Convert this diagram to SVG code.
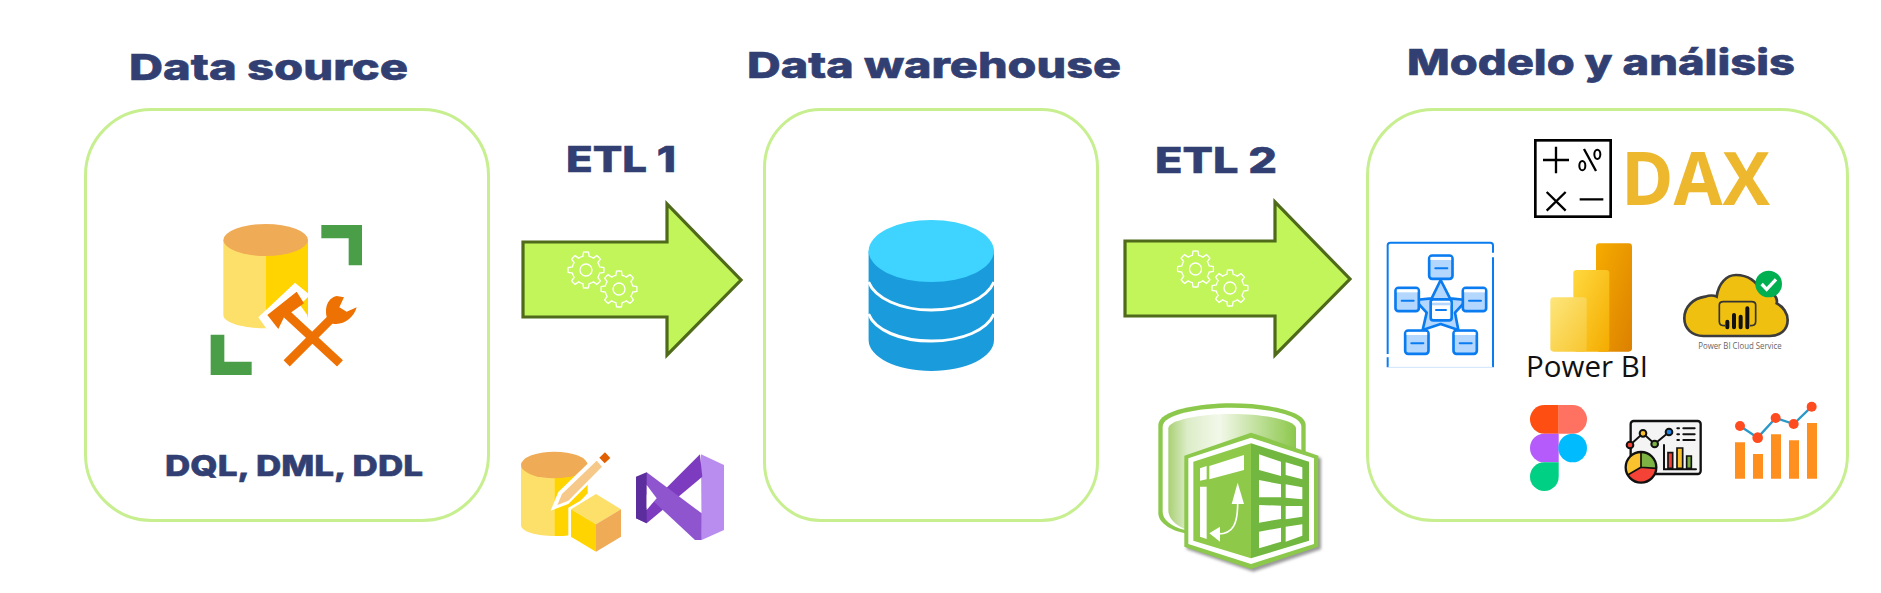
<svg xmlns="http://www.w3.org/2000/svg" xmlns:xlink="http://www.w3.org/1999/xlink" width="1881" height="593" viewBox="0 0 1881 593">
<style>
.box{fill:#fff;stroke:#c7ef90;stroke-width:3}
.h{font-family:Inter,"DejaVu Sans","Liberation Sans",sans-serif;font-weight:800;fill:#323f72;stroke:#323f72;stroke-width:.6}
.arrow{fill:#c1f55a;stroke:#4f6a1a;stroke-width:3.2}
.gear{fill:none;stroke:#fff;stroke-width:1.3}
.sb{fill:#b3d7ff;stroke:#0a7cf0;stroke-width:8}
.bk{stroke:#111;fill:none;stroke-linecap:round}
</style>
<defs>
<path id="tooth" d="M12.93-5.36A14 14 0 0 1 13.64-3.15L17.82-2.5A18 18 0 0 1 17.82 2.5L13.64 3.15A14 14 0 0 1 12.93 5.36"/>
<g id="gearShape" class="gear">
<use xlink:href="#tooth" href="#tooth"/>
<use xlink:href="#tooth" href="#tooth" transform="rotate(45)"/>
<use xlink:href="#tooth" href="#tooth" transform="rotate(90)"/>
<use xlink:href="#tooth" href="#tooth" transform="rotate(135)"/>
<use xlink:href="#tooth" href="#tooth" transform="rotate(180)"/>
<use xlink:href="#tooth" href="#tooth" transform="rotate(225)"/>
<use xlink:href="#tooth" href="#tooth" transform="rotate(270)"/>
<use xlink:href="#tooth" href="#tooth" transform="rotate(315)"/>
<circle r="6"/>
</g>
<g id="sbox">
<rect class="sb" x="3.5" y="3.5" width="70" height="70" rx="9"/>
<rect x="7.5" y="8" width="62" height="9" fill="#fff"/>
<path d="M22 42H58" stroke="#0a7cf0" stroke-width="6" stroke-linecap="round"/>
</g>
<linearGradient id="g1" x1="0" x2="1" y1="0" y2="0"><stop offset="0" stop-color="#a9d074"/><stop offset=".15" stop-color="#dcedc8"/><stop offset=".4" stop-color="#f3f8ea"/><stop offset="1" stop-color="#8cc84b"/></linearGradient>
<linearGradient id="p1" x1="0" x2="1" y1="0" y2="1"><stop offset="0" stop-color="#f6ac00"/><stop offset="1" stop-color="#dc8000"/></linearGradient>
<linearGradient id="p2" x1="0" x2="1" y1="0" y2="1"><stop offset="0" stop-color="#ffd93f"/><stop offset="1" stop-color="#f4ab00"/></linearGradient>
<linearGradient id="p3" x1="0" x2="1" y1="0" y2="1"><stop offset="0" stop-color="#fde67c"/><stop offset="1" stop-color="#f8c630"/></linearGradient>
<filter id="bl" x="-10%" y="-10%" width="120%" height="120%"><feGaussianBlur stdDeviation="4"/></filter>
</defs>
<rect width="1881" height="593" fill="#fff"/>

<g id="connectors">
<path class="arrow" d="M523 242H667V204L741 280L667 355V317H523Z" />
<path class="arrow" d="M1125 241H1275V202L1350 279L1275 355V316H1125Z"/>
<use xlink:href="#gearShape" href="#gearShape" transform="translate(586 270)"/>
<use xlink:href="#gearShape" href="#gearShape" transform="translate(619 289)"/>
<use xlink:href="#gearShape" href="#gearShape" transform="translate(1195.5 269)"/>
<use xlink:href="#gearShape" href="#gearShape" transform="translate(1230 288)"/>
</g>

<g id="node-source">
<text class="h" x="129" y="80" font-size="36" textLength="279" lengthAdjust="spacingAndGlyphs">Data source</text>
<rect class="box" x="85.5" y="109.5" width="403" height="411" rx="66" ry="66"/>
<g transform="translate(190 200) scale(.33333)">
<path d="M100 120V345C100 370 165 385 228 385V120Z" fill="#fde069"/>
<path d="M228 120V385C290 385 354 370 354 345V120Z" fill="#ffd400"/>
<ellipse cx="227" cy="120" rx="127" ry="48" fill="#f0ab56"/>
<path d="M394 75H516V196H476V115H394Z" fill="#4a9e47"/>
<path d="M62 404H103V485H185V525H62Z" fill="#4a9e47"/>
<path d="M205 352L315 248L360 285L330 315L352 345L352 395L232 390Z" fill="#fff"/>
<path d="M290 342L450 490M290 490L430 350" stroke="#ee7203" stroke-width="26" fill="none"/>
<path d="M232 345L320 275L342 310L302 338L282 352L265 387Z" fill="#ee7203"/>
<path d="M440 288C410 295 400 330 415 365C445 385 490 360 500 322L470 335L448 322L462 292Z" fill="#ee7203"/>
</g>
<text class="h" x="165" y="476" font-size="29" textLength="258" lengthAdjust="spacingAndGlyphs">DQL, DML, DDL</text>
</g>

<g id="node-etl1">
<text class="h" x="566" y="172" font-size="36" textLength="110" lengthAdjust="spacingAndGlyphs">ETL 1</text>
<g transform="translate(500 430) scale(.33333)">
<path d="M63 105V285C63 305 110 318 163 318V105Z" fill="#fde069"/>
<path d="M163 105H263V190L215 240V315C200 318 180 318 163 318Z" fill="#ffd400"/>
<ellipse cx="163" cy="105" rx="100" ry="40" fill="#f0ab56"/>
<path d="M152 242L175 186L300 65L332 95L205 222Z" fill="#fff"/>
<path d="M172 225L186 192L290 92L306 110L205 212Z" fill="#f6c98a"/>
<path d="M315 67L331 84L314 100L298 83Z" fill="#e05f00"/>
<path d="M288 185L370 233V325L288 372L205 325V233Z" fill="#fff"/>
<path d="M288 192L363 238L288 283L213 238Z" fill="#fde069"/>
<path d="M213 238L288 283V365L213 320Z" fill="#ffd400"/>
<path d="M288 283L363 238V320L288 365Z" fill="#f0ab56"/>
<path d="M603 73L672 105V300L605 330Z" fill="#b98df0"/>
<path d="M600 73L607 140L440 280L408 265Z" fill="#7d3cc0"/>
<path d="M440 127L605 250V330H585L408 165Z" fill="#8f55cf"/>
<path d="M408 140L440 127V150L440 280L408 265Z" fill="#5c2d9c"/>
<path d="M440 165L470 205L440 240Z" fill="#fff"/>
</g>
</g>

<g id="node-warehouse">
<text class="h" x="747" y="78" font-size="36" textLength="374" lengthAdjust="spacingAndGlyphs">Data warehouse</text>
<rect class="box" x="764.5" y="109.5" width="333" height="411" rx="56" ry="58"/>
<path d="M868.6 251V340C868.6 357 896.6 371 931.3 371S994 357 994 340V251Z" fill="#1a9bdc"/>
<ellipse cx="931.3" cy="251" rx="62.7" ry="31" fill="#3ed4ff"/>
<path d="M868.6 282C875 298 900 310 931.3 310S987 298 994 282M868.6 314C875 330 900 341 931.3 341S987 330 994 314" fill="none" stroke="#fff" stroke-width="3"/>
</g>

<g id="node-etl2">
<text class="h" x="1155" y="173" font-size="36" textLength="122" lengthAdjust="spacingAndGlyphs">ETL 2</text>
<g transform="translate(1140 390) scale(.33333)">
<path d="M55 105C55 60 180 40 275 40C370 40 497 60 497 105V430H135C85 420 55 395 55 370Z" fill="#8cc84b"/>
<path d="M68 110C68 72 180 53 275 53C370 53 484 72 484 110V420H135C95 410 68 390 68 365Z" fill="#fff"/>
<path d="M85 115C85 90 180 72 275 72C370 72 468 90 468 115V420H140C105 405 85 385 85 360Z" fill="url(#g1)"/>
<path d="M140 205L340 136L543 205V478L340 545L140 478Z" fill="#999" filter="url(#bl)"/>
<path d="M133 197L333 128L535 197V470L333 537L133 470Z" fill="#8cc84b"/>
<path d="M145 205L333 143L522 205V462L333 522L145 462Z" fill="#fff"/>
<path d="M160 215L333 160V505L160 452Z" fill="#8fc94a"/>
<path d="M333 160L507 215V452L333 505Z" fill="#72b840"/>
<path d="M208 228L312 195V240L208 268ZM180 235L200 228V268L180 272ZM180 290H200V447L180 440Z" fill="#fff"/>
<path d="M357 193L423 215V258L357 240ZM437 217L487 232V268L437 255ZM357 270L423 283V322L357 322ZM437 283L487 292V328L437 323ZM357 345L423 347V387L357 398ZM437 348L487 348V380L437 388ZM357 425L423 413V455L357 475ZM437 410L487 403V437L437 455Z" fill="#fff"/>
<path d="M293 278L312 342L275 342ZM208 430L240 410V455Z" fill="#fff"/>
<path d="M293 340C293 400 280 432 235 432" fill="none" stroke="#fff" stroke-width="5"/>
</g>
</g>

<g id="node-model">
<text class="h" x="1407" y="75" font-size="36" textLength="388" lengthAdjust="spacingAndGlyphs">Modelo y análisis</text>
<rect class="box" x="1367.5" y="109.5" width="480" height="411" rx="66" ry="66"/>
<text x="1621" y="204.7" font-family="Open Sans,sans-serif" font-weight="700" font-size="73" fill="#edb72e" textLength="149" lengthAdjust="spacingAndGlyphs">DAX</text>
<text x="1526" y="377.3" font-family="Open Sans,sans-serif" font-size="29" fill="#111" textLength="122" lengthAdjust="spacingAndGlyphs">Power BI</text>
<text x="1698.3" y="349" font-family="Open Sans,sans-serif" font-size="9" fill="#666" textLength="83.3" lengthAdjust="spacingAndGlyphs">Power BI Cloud Service</text>
<g transform="translate(1360 0) scale(.33333)">
<rect x="526" y="421" width="226" height="229" fill="#fff" stroke="#000" stroke-width="8"/>
<path d="M549 480H627M588 440V520M560 576L617 632M617 576L560 632M659 598H730M672 447L708 513" stroke="#000" stroke-width="7" fill="none"/>
<ellipse cx="667" cy="497" rx="9" ry="14" fill="none" stroke="#000" stroke-width="6"/>
<ellipse cx="712" cy="463" rx="9" ry="14" fill="none" stroke="#000" stroke-width="6"/>

<rect x="708" y="730" width="108" height="325" rx="10" fill="url(#p1)"/>
<rect x="640" y="810" width="108" height="245" rx="10" fill="url(#p2)"/>
<rect x="571" y="892" width="109" height="163" rx="10" fill="url(#p3)"/>

<path d="M1030 1008C995 1008 973 985 973 955C973 920 1000 895 1035 890C1050 885 1060 885 1070 890C1075 850 1100 825 1128 825C1165 825 1190 845 1200 870C1235 870 1255 890 1250 910C1270 920 1283 940 1283 960C1283 990 1260 1008 1230 1008Z" fill="#f0c010" stroke="#3c3c3c" stroke-width="8"/>
<circle cx="1226" cy="852" r="40" fill="#00b050"/>
<path d="M1205 852L1220 868L1248 838" fill="none" stroke="#fff" stroke-width="10"/>
<path d="M1095 977C1082 977 1078 972 1078 965V915C1078 908 1082 905 1090 905H1175C1183 905 1187 908 1187 915V965C1187 972 1183 977 1170 977" fill="none" stroke="#333" stroke-width="5"/>
<path d="M1102 965V982M1122 945V982M1142 950V982M1162 925V982" stroke="#111" stroke-width="12" stroke-linecap="round"/>

<path d="M596 1215H553a43 43 0 0 0 0 86H596Z" fill="#fe4e11"/>
<path d="M596 1215H638a43 43 0 0 1 0 86H596Z" fill="#ff7262"/>
<path d="M596 1301H553a43 43 0 0 0 0 86H596Z" fill="#b55bfb"/>
<circle cx="638" cy="1344" r="43" fill="#00bcff"/>
<path d="M596 1387H553a43 43 0 1 0 43 43Z" fill="#00d084"/>

<rect x="812" y="1263" width="210" height="159" rx="9" fill="#f4f4f4" stroke="#111" stroke-width="7"/>
<path class="bk" stroke-width="6" d="M810 1335L849 1300L884 1332L927 1296M952 1285H957M970 1285H1004M952 1303H957M970 1303H1004M952 1320H957M970 1320H1004M912 1335V1408H1008"/>
<path d="M924 1405V1358H938V1405Z" stroke="#111" stroke-width="5" fill="#f44336"/>
<path d="M951 1405V1344H968V1405Z" stroke="#111" stroke-width="5" fill="#f9c22e"/>
<path d="M980 1405V1368H994V1405Z" stroke="#111" stroke-width="5" fill="#7cb342"/>
<circle cx="810" cy="1335" r="10" fill="#f44336" stroke="#111" stroke-width="6"/>
<circle cx="849" cy="1300" r="10" fill="#f9c22e" stroke="#111" stroke-width="6"/>
<circle cx="884" cy="1332" r="10" fill="#7cb342" stroke="#111" stroke-width="6"/>
<circle cx="927" cy="1296" r="10" fill="#1e88e5" stroke="#111" stroke-width="6"/>
<circle cx="843" cy="1402" r="46" fill="#f9c22e"/>
<path d="M843 1402V1356A46 46 0 0 1 889 1405Z" fill="#7cb342"/>
<path d="M843 1402L889 1405A46 46 0 0 1 803 1425Z" fill="#f44336"/>
<path d="M843 1356V1402L889 1405M843 1402L803 1425" fill="none" stroke="#111" stroke-width="5"/>
<circle cx="843" cy="1402" r="46" fill="none" stroke="#111" stroke-width="7"/>

<path d="M1125 1327H1155V1436H1125ZM1179 1362H1209V1436H1179ZM1233 1303H1263V1436H1233ZM1287 1321H1317V1436H1287ZM1341 1269H1371V1436H1341Z" fill="#ff9020"/>
<path d="M1140 1278L1193 1313L1247 1254L1301 1272L1355 1220" fill="none" stroke="#2a98c8" stroke-width="7"/>
<circle cx="1140" cy="1278" r="15" fill="#ff4b20"/>
<circle cx="1193" cy="1313" r="16" fill="#ff4b20"/>
<circle cx="1247" cy="1254" r="15" fill="#ff4b20"/>
<circle cx="1301" cy="1272" r="15" fill="#ff4b20"/>
<circle cx="1355" cy="1220" r="15" fill="#ff4b20"/>
</g>
<g transform="translate(1370 230) scale(.33333)">
<path d="M53 372V46Q53 38 61 38H361Q369 38 369 46V68M369 82V412M53 382V412" fill="none" stroke="#0a7cf0" stroke-width="6"/>
<path d="M53 412H369" stroke="#cfe3fb" stroke-width="3"/>
<path class="sb" d="M212 150L240 205L290 210L255 248L265 300L212 282L158 300L170 248L135 210L185 205Z" stroke-linejoin="round"/>
<use xlink:href="#sbox" href="#sbox" x="174" y="73"/>
<use xlink:href="#sbox" href="#sbox" x="73" y="170"/>
<use xlink:href="#sbox" href="#sbox" x="275" y="170"/>
<use xlink:href="#sbox" href="#sbox" x="102" y="298"/>
<use xlink:href="#sbox" href="#sbox" x="247" y="298"/>
<rect x="182" y="208" width="63" height="63" rx="8" fill="#fff" stroke="#0a7cf0" stroke-width="8"/>
<path d="M186 222H241" stroke="#b3d7ff" stroke-width="8"/>
<path d="M198 240H228" stroke="#0a7cf0" stroke-width="6" stroke-linecap="round"/>
</g>
</g>
</svg>
